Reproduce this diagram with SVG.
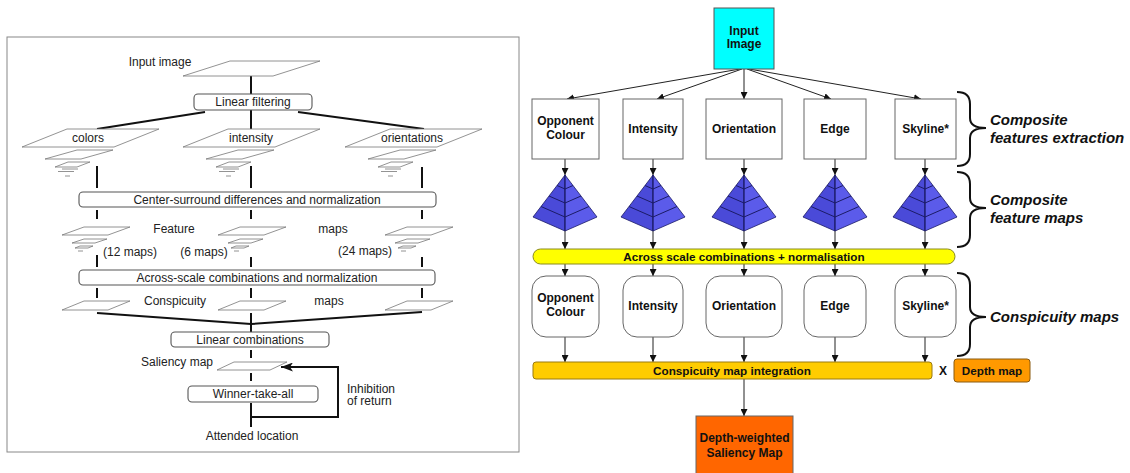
<svg xmlns="http://www.w3.org/2000/svg" width="1130" height="473" viewBox="0 0 1130 473">
<defs>
<style>
.lt{font-family:"Liberation Sans",Arial,sans-serif;font-size:12px;fill:#222;}
.mid{text-anchor:middle;}
.rt{font-family:"Liberation Sans",Arial,sans-serif;font-size:12px;font-weight:bold;fill:#111;text-anchor:middle;}
.bt{font-family:"Liberation Sans",Arial,sans-serif;font-size:11.7px;font-weight:bold;fill:#111;text-anchor:middle;}
.it{font-family:"Liberation Sans",Arial,sans-serif;font-size:15px;font-weight:bold;font-style:italic;fill:#111;}
.pg{fill:#fff;stroke:#777;stroke-width:0.8;}
.pl{fill:none;stroke:#777;stroke-width:0.8;}
.lb{fill:#fff;stroke:#555;stroke-width:1.1;}
.th{stroke:#111;stroke-width:2;fill:none;}
.ar{stroke:#222;stroke-width:1;fill:none;marker-end:url(#ah);}
.box{fill:#fff;stroke:#666;stroke-width:1;}
.brace{fill:none;stroke:#111;stroke-width:2;}
</style>
<marker id="ah" markerWidth="8" markerHeight="7" refX="7" refY="3.5" orient="auto" markerUnits="userSpaceOnUse"><path d="M0,0 L7,3.5 L0,7 z" fill="#111"/></marker>
<marker id="ah2" markerWidth="13" markerHeight="9" refX="12" refY="4.5" orient="auto" markerUnits="userSpaceOnUse"><path d="M0,0 L12,4.5 L0,9 L3,4.5 z" fill="#111"/></marker>
<g id="pyr">
<polygon points="0,175 -32,217 0,231" fill="#4a4ad8" stroke="#1b1b66" stroke-width="0.8"/>
<polygon points="0,175 0,231 32,217" fill="#5b5bea" stroke="#1b1b66" stroke-width="0.8"/>
<polyline points="-8,185.5 0,189 8,185.5" fill="none" stroke="#1b1b66" stroke-width="1"/>
<polyline points="-16,196 0,203 16,196" fill="none" stroke="#1b1b66" stroke-width="1"/>
<polyline points="-24,206.5 0,217 24,206.5" fill="none" stroke="#1b1b66" stroke-width="1"/>
<line x1="0" y1="175" x2="0" y2="231" stroke="#1b1b66" stroke-width="0.8"/>
</g>
<g id="stk1">
<polygon class="pg" points="55,150 91,150 59,159 23,159"/>
<polygon class="pg" points="46,162 68,162 55,167 33,167"/>
<line class="pl" x1="40" y1="169" x2="56" y2="169"/>
<line class="pl" x1="36" y1="171.5" x2="52" y2="171.5"/>
<line class="pl" x1="43" y1="176" x2="48" y2="176"/>
</g>
<g id="stk2">
<polygon class="pg" points="22,227 68,227 46,235 0,235"/>
<polygon class="pg" points="22,239 45,239 33,243 10,243"/>
<polygon class="pg" points="18,246 31,246 26,248 13,248"/>
<line class="pl" x1="16" y1="251" x2="21" y2="251"/>
</g>
</defs>

<rect width="1130" height="473" fill="#fff"/>

<!-- LEFT PANEL -->
<g id="left-panel">
<rect x="7" y="37" width="512" height="415" fill="none" stroke="#888" stroke-width="1"/>

<g id="left-connectors">
<line class="th" x1="251" y1="76" x2="251" y2="94"/>
<line class="th" x1="251" y1="110" x2="251" y2="129"/>
<line class="th" x1="205" y1="112" x2="97" y2="129"/>
<line class="th" x1="298" y1="112" x2="424" y2="129"/>
<line class="th" x1="97" y1="166" x2="97" y2="188"/>
<line class="th" x1="251" y1="166" x2="251" y2="188"/>
<line class="th" x1="422" y1="167" x2="422" y2="188"/>
<line class="th" x1="97" y1="210" x2="97" y2="219"/>
<line class="th" x1="251" y1="210" x2="251" y2="219"/>
<line class="th" x1="422" y1="210" x2="422" y2="219"/>
<line class="th" x1="97" y1="255" x2="97" y2="267"/>
<line class="th" x1="251" y1="257" x2="251" y2="267"/>
<line class="th" x1="422" y1="257" x2="422" y2="267"/>
<line class="th" x1="97" y1="288" x2="97" y2="298"/>
<line class="th" x1="251" y1="288" x2="251" y2="298"/>
<line class="th" x1="422" y1="288" x2="422" y2="298"/>
<line class="th" x1="97" y1="313" x2="251" y2="324"/>
<line class="th" x1="422" y1="312" x2="251" y2="324"/>
<line class="th" x1="251" y1="313" x2="251" y2="332"/>
<line class="th" x1="251" y1="350" x2="251" y2="358"/>
<line class="th" x1="251" y1="373" x2="251" y2="381"/>
<line class="th" x1="251" y1="403" x2="251" y2="427"/>
<path d="M251,417 L338,417 L338,367 L281,367" fill="none" stroke="#111" stroke-width="2" marker-end="url(#ah2)"/>
</g>

<g id="l-input">
<polygon class="pg" points="230,61 320,61 273,76 183,76"/>
<text class="lt mid" x="160" y="66">Input image</text>
</g>
<g id="l-linear-filtering">
<rect class="lb" x="194" y="94" width="118" height="16" rx="4"/>
<text class="lt mid" x="253" y="106">Linear filtering</text>
</g>
<g id="l-colors">
<polygon class="pg" points="67,129 159,129 114,147 22,147"/>
<text class="lt mid" x="88" y="142">colors</text>
<use href="#stk1" x="22"/>
</g>
<g id="l-intensity">
<polygon class="pg" points="228,129 320,129 275,147 183,147"/>
<text class="lt mid" x="251" y="142">intensity</text>
<use href="#stk1" x="183"/>
</g>
<g id="l-orientations">
<polygon class="pg" points="390,129 482,129 437,147 345,147"/>
<text class="lt mid" x="412" y="142">orientations</text>
<use href="#stk1" x="345"/>
</g>
<g id="l-center-surround">
<rect class="lb" x="79" y="192" width="357" height="15" rx="4"/>
<text class="lt mid" x="257" y="203.5">Center-surround differences and normalization</text>
</g>
<g id="l-feature-maps">
<use href="#stk2" x="62"/>
<use href="#stk2" x="218"/>
<use href="#stk2" x="385"/>
<text class="lt mid" x="174" y="233">Feature</text>
<text class="lt mid" x="333" y="233">maps</text>
<text class="lt mid" x="130" y="256">(12 maps)</text>
<text class="lt mid" x="204" y="256">(6 maps)</text>
<text class="lt mid" x="365" y="255">(24 maps)</text>
</g>
<g id="l-across-scale">
<rect class="lb" x="79" y="270" width="356" height="15" rx="4"/>
<text class="lt mid" x="257" y="281.5">Across-scale combinations and normalization</text>
</g>
<g id="l-conspicuity">
<polygon class="pg" points="84,301 130,301 108,310 62,310"/>
<polygon class="pg" points="240,301 286,301 264,310 218,310"/>
<polygon class="pg" points="407,301 453,301 431,310 385,310"/>
<text class="lt mid" x="175" y="305">Conspicuity</text>
<text class="lt mid" x="329" y="305">maps</text>
</g>
<g id="l-linear-combinations">
<rect class="lb" x="171" y="332" width="158" height="15" rx="4"/>
<text class="lt mid" x="250" y="344">Linear combinations</text>
</g>
<g id="l-saliency">
<polygon class="pg" points="234,362 287,362 270,370 217,370"/>
<text class="lt" x="213" y="366" text-anchor="end">Saliency map</text>
</g>
<g id="l-wta">
<rect class="lb" x="188" y="386" width="130" height="16" rx="4"/>
<text class="lt mid" x="253" y="398">Winner-take-all</text>
</g>
<g id="l-inhibition">
<text class="lt" x="347" y="393">Inhibition</text>
<text class="lt" x="347" y="405">of return</text>
</g>
<g id="l-attended">
<text class="lt mid" x="252" y="440">Attended location</text>
</g>
</g>

<!-- RIGHT PANEL -->
<g id="connectors">
<line class="ar" x1="740" y1="69" x2="567" y2="99"/>
<line class="ar" x1="742" y1="69" x2="657" y2="99"/>
<line class="ar" x1="744" y1="69" x2="744" y2="99"/>
<line class="ar" x1="747" y1="69" x2="831" y2="99"/>
<line class="ar" x1="749" y1="69" x2="921" y2="99"/>

<line class="ar" x1="565" y1="159" x2="565" y2="175"/>
<line class="ar" x1="653" y1="159" x2="653" y2="175"/>
<line class="ar" x1="744" y1="159" x2="744" y2="175"/>
<line class="ar" x1="835" y1="159" x2="835" y2="175"/>
<line class="ar" x1="925" y1="159" x2="925" y2="175"/>

<line class="ar" x1="565" y1="231" x2="565" y2="249"/>
<line class="ar" x1="653" y1="231" x2="653" y2="249"/>
<line class="ar" x1="744" y1="231" x2="744" y2="249"/>
<line class="ar" x1="835" y1="231" x2="835" y2="249"/>
<line class="ar" x1="925" y1="231" x2="925" y2="249"/>

<line class="ar" x1="565" y1="264" x2="565" y2="276"/>
<line class="ar" x1="653" y1="264" x2="653" y2="276"/>
<line class="ar" x1="744" y1="264" x2="744" y2="276"/>
<line class="ar" x1="835" y1="264" x2="835" y2="276"/>
<line class="ar" x1="925" y1="264" x2="925" y2="276"/>

<line class="ar" x1="565" y1="337" x2="565" y2="362"/>
<line class="ar" x1="653" y1="337" x2="653" y2="362"/>
<line class="ar" x1="744" y1="337" x2="744" y2="362"/>
<line class="ar" x1="835" y1="337" x2="835" y2="362"/>
<line class="ar" x1="925" y1="337" x2="925" y2="362"/>

<line class="ar" x1="744" y1="379" x2="744" y2="416"/>
</g>

<g id="input-image">
<rect x="714" y="8" width="60" height="61" fill="#00ffff" stroke="#555" stroke-width="1"/>
<text class="rt" x="744" y="35" font-size="10.5">Input</text>
<text class="rt" x="744" y="48" font-size="10.5">Image</text>
</g>

<g id="f-opponent">
<rect class="box" x="532" y="99" width="67" height="60"/>
<text class="rt" x="565.5" y="125">Opponent</text>
<text class="rt" x="565.5" y="139">Colour</text>
</g>
<g id="f-intensity">
<rect class="box" x="623" y="99" width="60" height="60"/>
<text class="rt" x="653" y="133">Intensity</text>
</g>
<g id="f-orientation">
<rect class="box" x="706" y="99" width="76" height="60"/>
<text class="rt" x="744" y="133">Orientation</text>
</g>
<g id="f-edge">
<rect class="box" x="804" y="99" width="62" height="60"/>
<text class="rt" x="835" y="133">Edge</text>
</g>
<g id="f-skyline">
<rect class="box" x="895" y="99" width="61" height="60"/>
<text class="rt" x="925.5" y="133">Skyline*</text>
</g>

<g id="pyramids">
<use href="#pyr" x="565"/>
<use href="#pyr" x="653"/>
<use href="#pyr" x="744"/>
<use href="#pyr" x="835"/>
<use href="#pyr" x="925"/>
</g>

<g id="across-scale">
<rect x="533" y="249" width="422" height="15" rx="7.5" fill="#ffff00" stroke="#8a8a20" stroke-width="1"/>
<text class="bt" x="744" y="261">Across scale combinations + normalisation</text>
</g>

<g id="c-opponent">
<rect class="box" x="532" y="276" width="67" height="61" rx="14"/>
<text class="rt" x="565.5" y="302">Opponent</text>
<text class="rt" x="565.5" y="316">Colour</text>
</g>
<g id="c-intensity">
<rect class="box" x="623" y="276" width="60" height="61" rx="14"/>
<text class="rt" x="653" y="310">Intensity</text>
</g>
<g id="c-orientation">
<rect class="box" x="706" y="276" width="76" height="61" rx="14"/>
<text class="rt" x="744" y="310">Orientation</text>
</g>
<g id="c-edge">
<rect class="box" x="804" y="276" width="62" height="61" rx="14"/>
<text class="rt" x="835" y="310">Edge</text>
</g>
<g id="c-skyline">
<rect class="box" x="895" y="276" width="61" height="61" rx="14"/>
<text class="rt" x="925.5" y="310">Skyline*</text>
</g>

<g id="integration">
<rect x="533" y="362" width="399" height="17" rx="3" fill="#ffcc00" stroke="#9a7a10" stroke-width="1"/>
<text class="bt" x="732" y="374.5">Conspicuity map integration</text>
</g>
<text class="rt" x="943" y="375">X</text>
<g id="depth-map">
<rect x="954" y="359" width="76" height="23" rx="3" fill="#ff9900" stroke="#8a5a10" stroke-width="1"/>
<text class="bt" x="992" y="374.5">Depth map</text>
</g>

<g id="saliency">
<rect x="696" y="416" width="97" height="62" fill="#ff6600" stroke="#666" stroke-width="1"/>
<text class="rt" x="744.5" y="442">Depth-weighted</text>
<text class="rt" x="744.5" y="457">Saliency Map</text>
</g>

<g id="braces">
<path class="brace" d="M957,92 Q970,92 970,104 L970,118 Q970,128 986,128 Q970,128 970,138 L970,154 Q970,166 957,166"/>
<path class="brace" d="M957,172 Q970,172 970,184 L970,198 Q970,208 986,208 Q970,208 970,218 L970,235 Q970,247 957,247"/>
<path class="brace" d="M957,273 Q970,273 970,285 L970,307 Q970,317 986,317 Q970,317 970,327 L970,344 Q970,356 957,356"/>
</g>
<g id="labels">
<text class="it" x="990" y="125">Composite</text>
<text class="it" x="990" y="143">features extraction</text>
<text class="it" x="990" y="205">Composite</text>
<text class="it" x="990" y="223">feature maps</text>
<text class="it" x="990" y="322">Conspicuity maps</text>
</g>
</svg>
